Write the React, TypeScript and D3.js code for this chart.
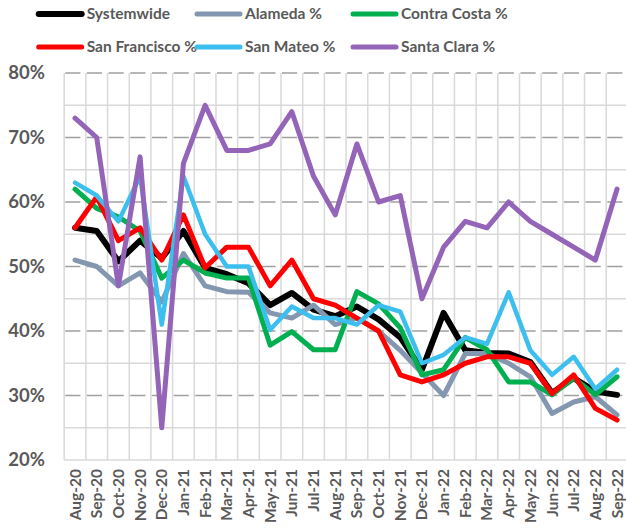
import React from "react";
import * as d3 from "d3";

const months = ["Aug-20","Sep-20","Oct-20","Nov-20","Dec-20","Jan-21","Feb-21","Mar-21","Apr-21","May-21","Jun-21","Jul-21","Aug-21","Sep-21","Oct-21","Nov-21","Dec-21","Jan-22","Feb-22","Mar-22","Apr-22","May-22","Jun-22","Jul-22","Aug-22","Sep-22"];

const systemwide = [56, 55.5, 50.8, 54, 51.3, 55.5, 49.8, 48.8, 47.4, 44, 45.9, 43.3, 42.3, 43.8, 41.8, 39, 34, 42.8, 37, 36.6, 36.5, 35.2, 30.4, 32.7, 30.6, 30.1];
const alameda = [51, 50, 47, 49, 44.5, 52, 47, 46.1, 46, 42.8, 42, 44, 41, 42, 40, 37, 33.5, 30, 36.5, 36.5, 35, 32.9, 27.2, 29, 29.8, 27];
const contraCosta = [62, 59, 57.7, 55.5, 48.2, 51, 49, 48.2, 48.2, 37.8, 39.9, 37.1, 37.1, 46.1, 44.2, 40.5, 33.2, 34, 39, 37.1, 32.1, 32.1, 30.1, 32.7, 30.1, 32.9];
const sanFrancisco = [56, 60.8, 54, 56, 51, 58, 49.8, 53, 53, 47, 51, 45, 44, 42, 40, 33.2, 32.1, 33.2, 35, 36, 36, 35, 30.3, 33.2, 28, 26.2];
const sanMateo = [63, 61, 57, 64, 41, 64, 55, 50, 50, 40.2, 43.8, 42, 42, 41, 44, 43, 35, 36.3, 39, 38, 46, 37, 33.2, 36, 31, 34];
const santaClara = [73, 70, 47, 67, 25, 66, 75, 68, 68, 69, 74, 64, 58, 69, 60, 61, 45, 53, 57, 56, 60, 57, 55, 53, 51, 62];

const seriesNames = ["Systemwide", "Alameda %", "Contra Costa %", "San Francisco %", "San Mateo %", "Santa Clara %"];
const seriesValues = [systemwide, alameda, contraCosta, sanFrancisco, sanMateo, santaClara];
const seriesColors = ["#000000", "#8497B0", "#00B050", "#FF0000", "#3CBFEE", "#9464B8"];
const seriesWidths = [6, 5, 5, 5, 4.5, 5];

const yMajorTicks = [20, 30, 40, 50, 60, 70, 80];
const yMinorTicks = [25, 35, 45, 55, 65, 75];

const W = 626, H = 532;
const left = 64.2, right = 627.9, top = 73, bottom = 460;
const FONT = "Lato, 'Open Sans', sans-serif";
const TEXT = "#595959";

export default function App() {
  const x = d3.scaleBand<string>().domain(months).range([left, right]).padding(0);
  const y = d3.scaleLinear().domain([20, 80]).range([bottom, top]);
  const cx = (m: string) => (x(m) as number) + x.bandwidth() / 2;
  const line = d3.line<number>().x((_, i) => cx(months[i])).y((v) => y(v)).curve(d3.curveLinear);
  const bw = x.bandwidth();

  const legendPos = [
    [36.7, 14], [195, 14], [351, 14],
    [36.7, 47], [195, 47], [351, 47],
  ];

  return (
    <svg width={W} height={H} style={{ position: "absolute", left: 0, top: 0, background: "#fff" }}>
      {yMinorTicks.map((t) => (
        <line key={"mn" + t} x1={left} x2={right} y1={y(t)} y2={y(t)} stroke="#D9D9D9" strokeWidth={1.5} />
      ))}
      {months.map((m) => (
        <line key={"v" + m} x1={x(m) as number} x2={x(m) as number} y1={top} y2={bottom} stroke="#D9D9D9" strokeWidth={1.5} />
      ))}
      <line x1={right} x2={right} y1={top} y2={bottom} stroke="#D9D9D9" strokeWidth={1.5} />
      {yMajorTicks.filter((t) => t > 20).map((t) => (
        <line key={"mj" + t} x1={left + 1} x2={right} y1={y(t)} y2={y(t)} stroke="#A0A0A0" strokeWidth={1.6}
          strokeDasharray={`${bw - 6.5} 6.5`} />
      ))}
      <line x1={left} x2={right} y1={bottom} y2={bottom} stroke="#D9D9D9" strokeWidth={1.5} />

      {seriesValues.map((vals, i) => (
        <path key={seriesNames[i]} d={line(vals) as string} fill="none" stroke={seriesColors[i]}
          strokeWidth={seriesWidths[i]} strokeLinejoin="round" strokeLinecap="round" />
      ))}

      {yMajorTicks.map((t) => (
        <text key={"yl" + t} x={45} y={y(t)} dy="0.35em" textAnchor="end" fontFamily={FONT} fontWeight="bold"
          fontSize={18.5} fill={TEXT}>{t}%</text>
      ))}

      {months.map((m) => (
        <text key={"xl" + m} transform={`translate(${cx(m) + 5.5},${469}) rotate(-90)`} textAnchor="end"
          fontFamily={FONT} fontWeight="bold" fontSize={15.5} fill={TEXT}>{m}</text>
      ))}

      {seriesNames.map((n, i) => (
        <g key={"lg" + n} transform={`translate(${legendPos[i][0]},${legendPos[i][1]})`}>
          <line x1={2} x2={45} y1={0} y2={0} stroke={seriesColors[i]} strokeWidth={i === 0 ? 6 : 5} strokeLinecap="round" />
          <text x={50} y={0} dy="0.35em" fontFamily={FONT} fontWeight="bold" fontSize={15.5} fill={TEXT}>{n}</text>
        </g>
      ))}
    </svg>
  );
}
